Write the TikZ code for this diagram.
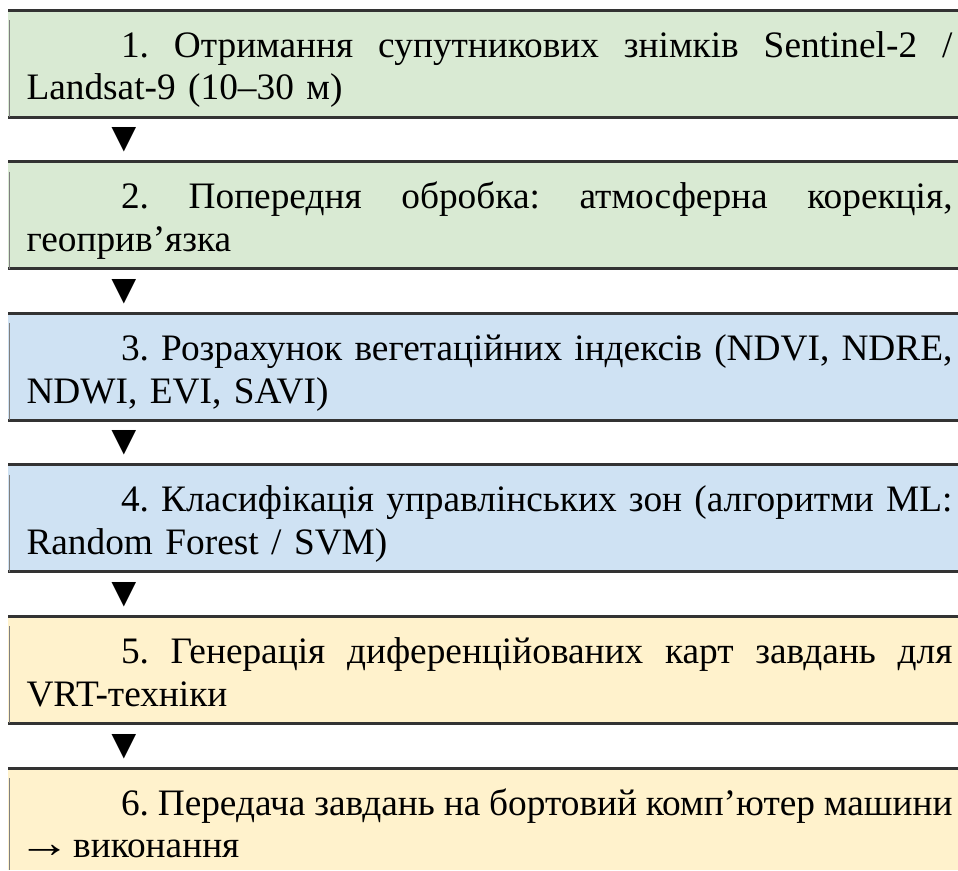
\documentclass[tikz,border=0pt]{standalone}
\usepackage{fontspec}
\usepackage{graphicx}
\setmainfont{Liberation Serif}
\usetikzlibrary{calc}
\definecolor{gfill}{HTML}{D9EAD3}
\definecolor{bfill}{HTML}{CFE2F3}
\definecolor{yfill}{HTML}{FFF2CC}
\definecolor{rulec}{HTML}{333333}
\definecolor{lrule}{HTML}{7F7F7F}
\newcommand\jline[1]{\hbox to \hsize{\frenchspacing\spaceskip=0.25em plus 8em minus 0.1em\relax\hspace*{94.5pt}#1}}
\newcommand\pline[1]{\hbox{#1}}
\newcommand\thinarrow{\hspace*{-8pt}\scalebox{1.4}[1.15]{→}\hspace{-10pt}}
\begin{document}
\begin{tikzpicture}[x=1pt,y=1pt,
  stagebox/.style={anchor=north west, minimum width=950pt, minimum height=107pt, inner sep=0pt, outer sep=0pt, draw=none},
  stagetext/.style={anchor=base west, inner sep=0pt, outer sep=0pt, text width=926pt, font=\fontsize{37.33}{42.9}\selectfont},
  hrule/.style={draw=rulec, line width=3pt},
  siderule/.style={draw=lrule, line width=1.2pt},
  tri/.style={inner sep=0pt, outer sep=0pt, font=\fontsize{42}{42}\selectfont}]
\useasboundingbox (0,0) rectangle (958,-870);

% boxes
\node[stagebox, fill=gfill] (b1) at (8,-10) {};
\node[stagebox, fill=gfill] (b2) at (8,-161.6) {};
\node[stagebox, fill=bfill] (b3) at (8,-313.2) {};
\node[stagebox, fill=bfill] (b4) at (8,-464.8) {};
\node[stagebox, fill=yfill] (b5) at (8,-616.4) {};
\node[stagebox, fill=yfill, minimum height=102pt] (b6) at (8,-768) {};

% borders
\foreach \b in {b1,b2,b3,b4,b5}{
  \draw[hrule] (\b.north west) -- (\b.north east);
  \draw[hrule] (\b.south west) -- (\b.south east);
  \draw[siderule] ([shift={(1.5,-10)}]\b.north west) -- ([shift={(1.5,0)}]\b.south west);
}
\draw[hrule] (b6.north west) -- (b6.north east);
\draw[siderule] ([shift={(1.5,-10)}]b6.north west) -- ([shift={(1.5,0)}]b6.south west);

% texts
\node[stagetext] (x1) at (26.5,-57) {\jline{1. Отримання супутникових знімків Sentinel-2 /}\par\pline{Landsat-9 (10–30 м)}};
\node[stagetext] (x2) at (26.5,-208.6) {\jline{2. Попередня обробка: атмосферна корекція,}\par\pline{геоприв’язка}};
\node[stagetext] (x3) at (26.5,-360.2) {\jline{3. Розрахунок вегетаційних індексів (NDVI, NDRE,}\par\pline{NDWI, EVI, SAVI)}};
\node[stagetext] (x4) at (26.5,-511.8) {\jline{4. Класифікація управлінських зон (алгоритми ML:}\par\pline{Random Forest / SVM)}};
\node[stagetext] (x5) at (26.5,-663.4) {\jline{5. Генерація диференційованих карт завдань для}\par\pline{VRT-техніки}};
\node[stagetext] (x6) at (26.5,-815) {\jline{6. Передача завдань на бортовий комп’ютер машини}\par\pline{\thinarrow{} виконання}};

% down markers
\node[tri] (t1) at (124.5,-140) {▼};
\node[tri] (t2) at (124.5,-291.6) {▼};
\node[tri] (t3) at (124.5,-443.2) {▼};
\node[tri] (t4) at (124.5,-594.8) {▼};
\node[tri] (t5) at (124.5,-746.4) {▼};
\end{tikzpicture}
\end{document}
